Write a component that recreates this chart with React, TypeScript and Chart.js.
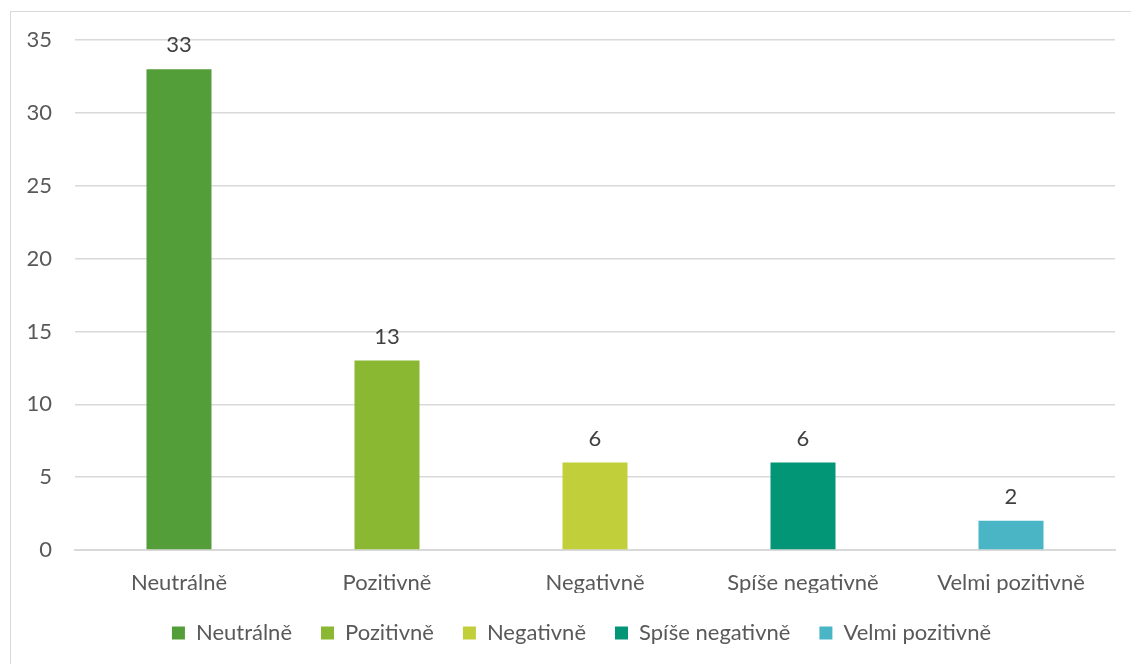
import React, { useEffect, useRef } from "react";
import { Chart, registerables } from "chart.js";

Chart.register(...registerables);

const categories = ["Neutrálně", "Pozitivně", "Negativně", "Spíše negativně", "Velmi pozitivně"];
const values = [33, 13, 6, 6, 2];
const colors = ["#549E39", "#8AB833", "#C0CF3A", "#029676", "#4AB5C4"];
const yTicks = [0, 5, 10, 15, 20, 25, 30, 35];

const FONT = "Lato, 'Open Sans', sans-serif";
const TEXT = "#595959";
const GRID = "#d9d9d9";

const valueLabels = {
  id: "valueLabels",
  afterDatasetsDraw(chart: any) {
    const ctx = chart.ctx;
    const meta = chart.getDatasetMeta(0);
    ctx.save();
    ctx.font = `22px ${FONT}`;
    ctx.fillStyle = "#404040";
    ctx.textAlign = "center";
    ctx.textBaseline = "alphabetic";
    meta.data.forEach((bar: any, i: number) => {
      ctx.fillText(String(chart.data.datasets[0].data[i]), bar.x, bar.y - 17);
    });
    ctx.restore();
  },
};

const shiftLegend = {
  id: "shiftLegend",
  afterLayout(chart: any) {
    if (chart.legend) {
      chart.legend.left += 24;
      chart.legend.right += 24;
    }
  },
};

export default function App() {
  const ref = useRef<HTMLCanvasElement | null>(null);
  useEffect(() => {
    if (!ref.current) return;
    const chart = new Chart(ref.current, {
      type: "bar",
      data: {
        labels: categories,
        datasets: [
          {
            label: "Počet",
            data: values,
            backgroundColor: colors,
            borderWidth: 0,
            barPercentage: 1,
            categoryPercentage: 0.3125,
          },
        ],
      },
      options: {
        responsive: false,
        animation: false,
        layout: { padding: { top: 40, right: 16, bottom: 10, left: 0 } },
        plugins: {
          tooltip: { enabled: false },
          legend: {
            position: "bottom",
            labels: {
              font: { family: FONT, size: 22 },
              color: TEXT,
              boxWidth: 13,
              boxHeight: 13,
              padding: 29,
              generateLabels: () =>
                categories.map((c, i) => ({
                  text: c,
                  fillStyle: colors[i],
                  strokeStyle: colors[i],
                  lineWidth: 0,
                  hidden: false,
                  index: i,
                  fontColor: TEXT,
                })),
            },
          },
        },
        scales: {
          x: {
            grid: { display: false },
            border: { display: true, color: GRID, width: 2 },
            ticks: { font: { family: FONT, size: 22 }, color: TEXT, padding: 12, maxRotation: 0 },
            afterFit: (s: any) => {
              s.height = 43;
            },
          },
          y: {
            min: 0,
            max: 35,
            afterBuildTicks: (s: any) => {
              s.ticks = yTicks.map((v) => ({ value: v }));
            },
            grid: { color: GRID, lineWidth: 1.5, drawTicks: false },
            border: { display: false },
            ticks: { font: { family: FONT, size: 22 }, color: TEXT, padding: 23 },
            afterFit: (s: any) => {
              s.width = 75;
            },
          },
        },
      },
      plugins: [valueLabels, shiftLegend],
    });
    return () => chart.destroy();
  }, []);

  return (
    <div style={{ position: "fixed", left: 0, top: 0, width: 1131, height: 664, overflow: "hidden", background: "#fff" }}>
      <div
        style={{
          position: "absolute",
          left: 10,
          top: 11,
          width: 1300,
          height: 800,
          borderLeft: "1.5px solid #d9d9d9",
          borderTop: "1.5px solid #d9d9d9",
        }}
      />
      <canvas ref={ref} width={1131} height={664} style={{ position: "absolute", left: 0, top: 0 }} />
    </div>
  );
}
